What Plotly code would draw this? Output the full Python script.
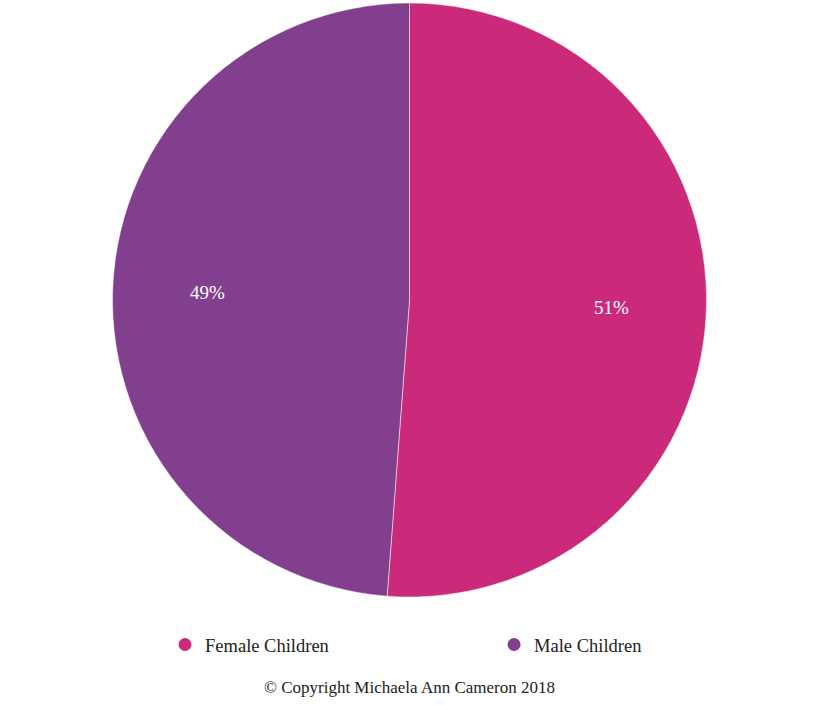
import math
import plotly.graph_objects as go

labels = ['Female Children', 'Male Children']
values = [51.2, 48.8]
colors = ['#CB2A7B', '#813F8E']
footer = '© Copyright Michaela Ann Cameron 2018'

FONT = 'Liberation Serif, serif'

fig = go.Figure()

fig.add_trace(go.Pie(
    labels=labels,
    values=values,
    marker=dict(colors=colors, line=dict(color='white', width=0.5)),
    sort=False,
    direction='clockwise',
    rotation=0,
    textinfo='none',
    hoverinfo='label+percent',
    showlegend=False,
    domain=dict(x=[0, 1], y=[0, 1]),
))

# legend entries with round markers (pie legends only draw squares)
for lab, col in zip(labels, colors):
    fig.add_trace(go.Scatter(
        x=[None], y=[None], mode='markers', name=lab,
        marker=dict(color=col, size=13, symbol='circle'),
        hoverinfo='skip',
    ))

# percentage labels along each slice bisector
W, H = 819, 705
m_t, m_b = 3, 108
plot_h = H - m_t - m_b
radius = min(W, plot_h) / 2
total = sum(values)
annotations = []
cum = 0
for v in values:
    mid = (cum + v / 2) / total * 2 * math.pi
    cum += v
    r = 0.68 * radius
    annotations.append(dict(
        text=f'{round(v / total * 100)}%',
        x=0.5 + r * math.sin(mid) / W,
        y=0.5 + r * math.cos(mid) / plot_h,
        xref='paper', yref='paper', showarrow=False,
        xanchor='center', yanchor='middle',
        font=dict(size=19, family=FONT, color='white'),
    ))

annotations.append(dict(
    text=footer,
    x=0.5, y=-0.153, xref='paper', yref='paper',
    xanchor='center', yanchor='middle', showarrow=False,
    font=dict(size=17, family=FONT, color='#222222'),
))

fig.update_layout(
    width=W,
    height=H,
    margin=dict(l=0, r=0, t=m_t, b=m_b, autoexpand=False),
    paper_bgcolor='white',
    plot_bgcolor='white',
    font=dict(family=FONT, color='#222222'),
    xaxis=dict(visible=False),
    yaxis=dict(visible=False),
    showlegend=True,
    legend=dict(
        orientation='h',
        x=0.2015, xanchor='left',
        y=-0.0808, yanchor='middle',
        entrywidth=284,
        font=dict(size=18.5, family=FONT, color='#222222'),
    ),
    annotations=annotations,
)

fig.write_html('out.html', config={'displayModeBar': False},
               post_script="document.body.style.margin='0';")
